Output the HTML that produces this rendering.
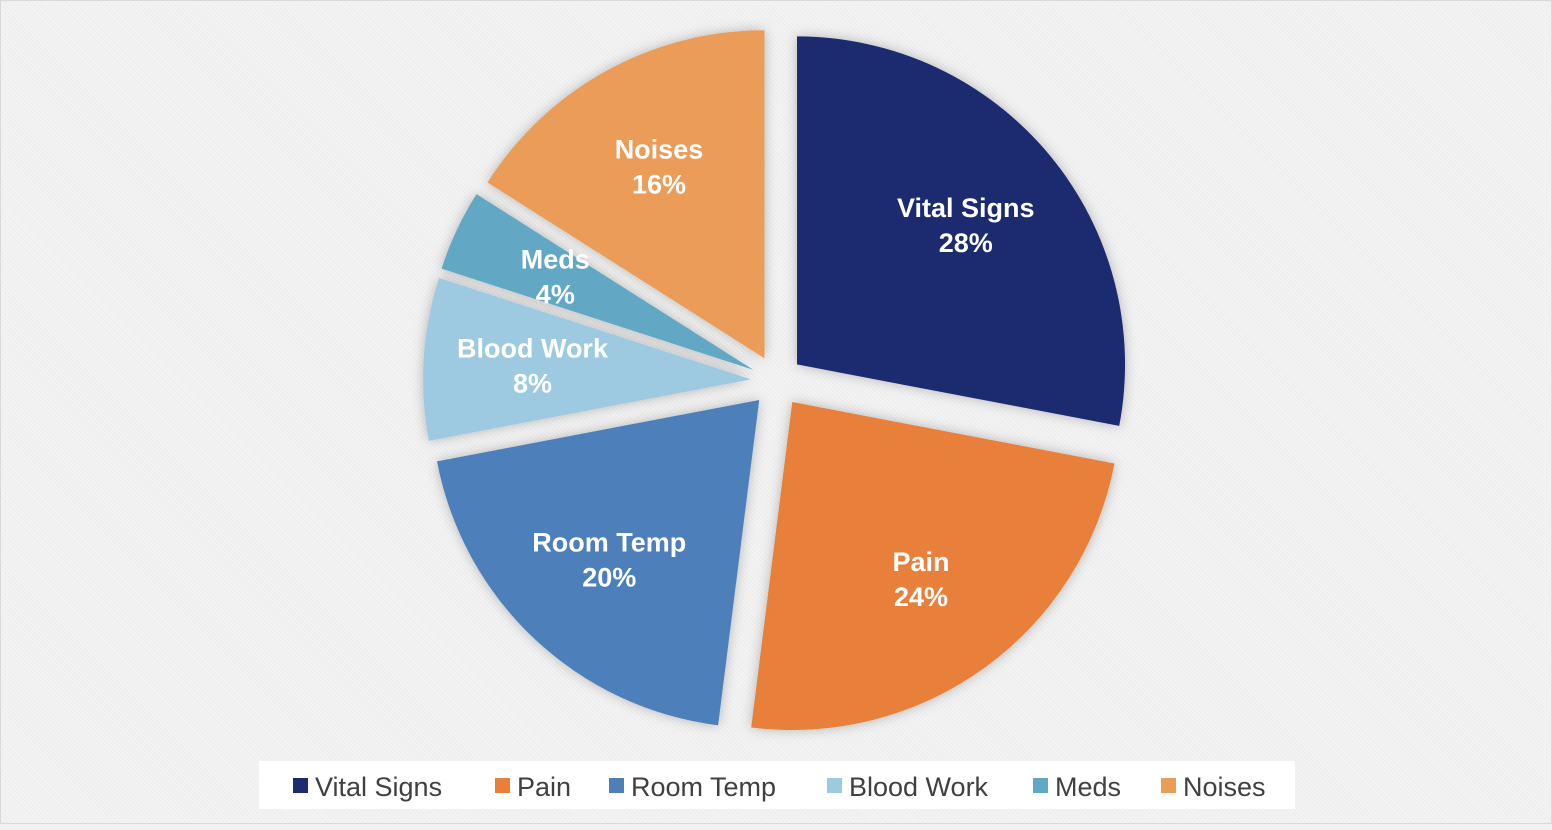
<!DOCTYPE html>
<html><head><meta charset="utf-8"><style>
html,body{margin:0;padding:0}
body{width:1552px;height:824px;overflow:hidden;background:#f1f1f1;font-family:"Liberation Sans",sans-serif}
#chart{position:absolute;left:0;top:0;width:1550px;height:822px;border:1px solid #d9d9d9;
background:repeating-linear-gradient(45deg,#f3f3f3 0 2px,#ececec 2px 3px)}
</style></head><body>
<div id="chart">
<svg id="svg" width="1552" height="824">
<defs><filter id="sh" x="-20%" y="-20%" width="140%" height="140%"><feDropShadow dx="0" dy="0" stdDeviation="6" flood-color="#000" flood-opacity="0.25"/></filter></defs>
<g id="slices" filter="url(#sh)"></g>
<g id="labels"></g>
<rect x="258" y="760" width="1036" height="48" fill="#fff"/>
<g id="legend"></g>
</svg>
</div>
<script>
const categories=["Vital Signs","Pain","Room Temp","Blood Work","Meds","Noises"];
const values=[28,24,20,8,4,16];
const colors=["#1c2a6f","#e8803a","#4d80ba","#9dcae0","#62a8c4","#ea9c58"];
const legendX=[292,494,608,826,1032,1160];
const cx=776,cy=380,R=328,EXP=26,LBL=245;
const ns="http://www.w3.org/2000/svg";
const total=values.reduce((a,b)=>a+b,0);
const slices=document.getElementById('slices'),labels=document.getElementById('labels'),legend=document.getElementById('legend');
function pt(x,y,r,a){return [x+r*Math.sin(a),y-r*Math.cos(a)];}
let acc=0;
values.forEach((v,i)=>{
  const a0=acc/total*2*Math.PI;acc+=v;const a1=acc/total*2*Math.PI;const am=(a0+a1)/2;
  const ox=cx+EXP*Math.sin(am),oy=cy-EXP*Math.cos(am);
  const p0=pt(ox,oy,R,a0),p1=pt(ox,oy,R,a1);
  const p=document.createElementNS(ns,'path');
  p.setAttribute('d',`M${ox},${oy}L${p0[0]},${p0[1]}A${R},${R} 0 ${a1-a0>Math.PI?1:0} 1 ${p1[0]},${p1[1]}Z`);
  p.setAttribute('fill',colors[i]);
  
  
  slices.appendChild(p);
  const lp=pt(cx,cy,LBL,am);
  const t=document.createElementNS(ns,'text');
  t.setAttribute('x',lp[0]);t.setAttribute('y',lp[1]-8);
  t.setAttribute('text-anchor','middle');t.setAttribute('fill','#fff');
  t.setAttribute('font-size','27');t.setAttribute('font-weight','bold');
  
  
  const s1=document.createElementNS(ns,'tspan');s1.setAttribute('x',lp[0]);s1.textContent=categories[i];
  const s2=document.createElementNS(ns,'tspan');s2.setAttribute('x',lp[0]);s2.setAttribute('dy','35');s2.textContent=Math.round(v/total*100)+'%';
  t.appendChild(s1);t.appendChild(s2);labels.appendChild(t);
  const g=document.createElementNS(ns,'g');
  
  
  const r=document.createElementNS(ns,'rect');
  r.setAttribute('x',legendX[i]);r.setAttribute('y',777);r.setAttribute('width',15);r.setAttribute('height',15);r.setAttribute('fill',colors[i]);
  const lt=document.createElementNS(ns,'text');
  lt.setAttribute('x',legendX[i]+22);lt.setAttribute('y',795);lt.setAttribute('font-size','27');lt.setAttribute('fill','#404040');
  lt.textContent=categories[i];
  g.appendChild(r);g.appendChild(lt);legend.appendChild(g);
});
</script>
</body></html>
